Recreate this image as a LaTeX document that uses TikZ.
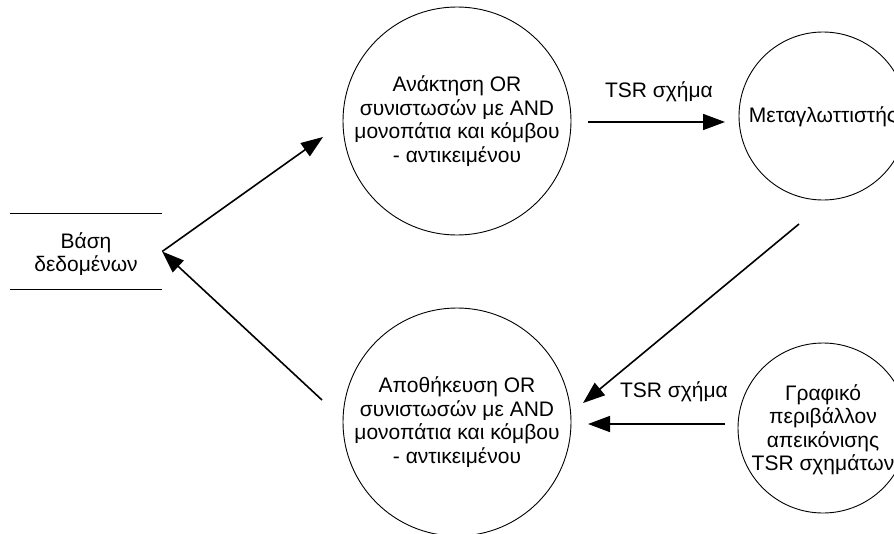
\documentclass[tikz,border=0pt]{standalone}
\usepackage{fontspec}
\setmainfont{Liberation Sans}
\usetikzlibrary{arrows.meta}

\begin{document}
\begin{tikzpicture}[x=1pt,y=-1pt,
  proc/.style={draw=black, line width=0.9pt, circle, inner sep=0pt},
  ptext/.style={align=center, inner sep=0pt, font=\fontsize{21}{23.5}\selectfont},
  flowlabel/.style={inner sep=0pt, font=\fontsize{21}{23.5}\selectfont},
  flow/.style={draw=black, line width=1.6pt, -{Triangle[length=22pt,width=16pt]}},
  storeline/.style={draw=black, line width=1pt}
]
  \useasboundingbox (0,0) rectangle (894,533);
  \clip (0,0) rectangle (894,533);

  % data store
  \node[minimum width=152pt, minimum height=75pt, inner sep=0pt] (db) at (86,251.5) {};
  \node[ptext] (dbt) at (86,254) {Βάση\\δεδομένων};
  \draw[storeline] (db.north west) -- (db.north east);
  \draw[storeline] (db.south west) -- (db.south east);

  % processes
  \node[proc, minimum size=228pt] (ret) at (457,121) {};
  \node[ptext] (rett) at (ret) {Ανάκτηση OR\\συνιστωσών με AND\\μονοπάτια και κόμβου\\- αντικειμένου};

  \node[proc, minimum size=228pt] (sto) at (457,422) {};
  \node[ptext] (stot) at (sto) {Αποθήκευση OR\\συνιστωσών με AND\\μονοπάτια και κόμβου\\- αντικειμένου};

  \node[proc, minimum size=168pt] (comp) at (823,116) {};
  \node[ptext] (compt) at (823,117) {Μεταγλωττιστής};

  \node[proc, minimum size=170pt] (gui) at (823,428) {};
  \node[ptext] (guit) at (823,430) {Γραφικό\\περιβάλλον\\απεικόνισης\\TSR σχημάτων};

  % connector end points
  \coordinate (retIn) at (323,137);
  \coordinate (stoOut) at (322,400);
  \coordinate (retOut) at (588,122);
  \coordinate (compIn) at (725,122);
  \coordinate (compOut) at (799,224);
  \coordinate (stoIn) at (583,403);
  \coordinate (guiOut) at (725,424);
  \coordinate (stoIn2) at (588,424);

  % flows
  \draw[flow] (db.east) -- (retIn);
  \draw[flow] (stoOut) -- (db.east);
  \draw[flow] (retOut) -- (compIn);
  \draw[flow] (compOut) -- (stoIn);
  \draw[flow] (guiOut) -- (stoIn2);

  % flow labels
  \node[flowlabel] (l1) at (659,92) {TSR σχήμα};
  \node[flowlabel] (l2) at (674,392) {TSR σχήμα};
\end{tikzpicture}
\end{document}
